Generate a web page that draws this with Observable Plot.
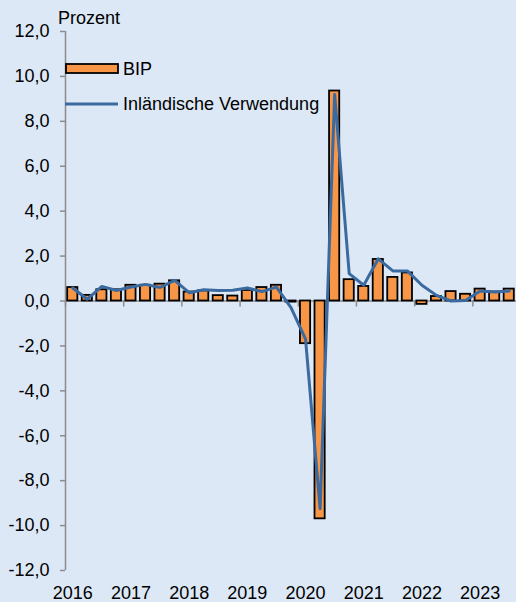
<!DOCTYPE html>
<html><head><meta charset="utf-8">
<script src="https://cdn.jsdelivr.net/npm/d3@7"></script>
<script src="https://cdn.jsdelivr.net/npm/@observablehq/plot@0.6"></script>
<style>
body{margin:0;background:#dce8f6;}
#wrap{position:relative;width:516px;height:602px;overflow:hidden;font-family:"Liberation Sans",Arial,sans-serif;background:#dce8f6;}
#overlay{position:absolute;left:0;top:0;pointer-events:none;}
</style></head><body><div id="wrap"></div>
<script>
// Quarterly change vs previous quarter, percent
const quarters = [
  "2016Q1","2016Q2","2016Q3","2016Q4",
  "2017Q1","2017Q2","2017Q3","2017Q4",
  "2018Q1","2018Q2","2018Q3","2018Q4",
  "2019Q1","2019Q2","2019Q3","2019Q4",
  "2020Q1","2020Q2","2020Q3","2020Q4",
  "2021Q1","2021Q2","2021Q3","2021Q4",
  "2022Q1","2022Q2","2022Q3","2022Q4",
  "2023Q1","2023Q2","2023Q3"
];
const years = ["2016","2017","2018","2019","2020","2021","2022","2023"];
const bip = [
  0.6, 0.25, 0.5, 0.5,
  0.7, 0.7, 0.75, 0.9,
  0.4, 0.45, 0.24, 0.22,
  0.47, 0.6, 0.7, -0.05,
  -1.9, -9.7, 9.35, 0.95,
  0.65, 1.85, 1.05, 1.25,
  -0.15, 0.2, 0.42, 0.3,
  0.53, 0.4, 0.53
];
const inl = [
  0.58, 0.08, 0.65, 0.47,
  0.62, 0.74, 0.6, 0.92,
  0.37, 0.5, 0.47, 0.48,
  0.58, 0.42, 0.62, -0.3,
  -1.7, -9.25, 9.2, 1.22,
  0.7, 1.88, 1.34, 1.34,
  0.7, 0.25, 0.0, 0.02,
  0.45, 0.4, 0.45
];
const yTicks = [-12,-10,-8,-6,-4,-2,0,2,4,6,8,10,12];
const seriesNames = ["BIP","Inländische Verwendung"];
const unitLabel = "Prozent";

const W = 516, H = 602, ML = 65, MR = 0, MT = 31, MB = 32;
const n = quarters.length;
const step = (W - ML - MR) / n;
const gap = step * 0.15;
// position index of each quarter: slot i spans [i, i+1]
const data = quarters.map((q, i) => ({q, i, bip: bip[i], inl: inl[i]}));
const yearIdx = years.map(y => quarters.indexOf(y + "Q1"));
const ORANGE = "#f79646", BLUE = "#3b6aa0", GRAY = "#8c8c8c";
const FONT = '"Liberation Sans", Arial, sans-serif';

const chart = Plot.plot({
  width: W, height: H,
  marginLeft: ML, marginRight: MR, marginTop: MT, marginBottom: MB,
  style: {background: "transparent", fontFamily: FONT, fontSize: "18px", color: "#000", overflow: "visible"},
  x: {type: "linear", domain: [0, n], axis: null},
  y: {domain: [-12, 12], axis: null},
  marks: [
    Plot.ruleY([0], {stroke: GRAY, strokeWidth: 1.5}),
    Plot.ruleX(yearIdx, {x: d => d, y1: 0, y2: 0, insetBottom: -6, stroke: GRAY, strokeWidth: 1.5}),
    Plot.ruleX([0], {y1: -12, y2: 12, stroke: GRAY, strokeWidth: 1.5}),
    Plot.axisY(yTicks, {tickSize: 5, tickPadding: 11, stroke: GRAY, strokeWidth: 1.5, fill: "#000",
      tickFormat: d => d.toFixed(1).replace(".", ","), label: null}),
    Plot.axisX(yearIdx.map(k => k + 0.5), {tickSize: 0, tickPadding: 16, fill: "#000",
      tickFormat: d => quarters[Math.floor(d)].slice(0, 4), label: null}),
    Plot.rectY(data, {x1: d => d.i, x2: d => d.i + 1, y1: 0, y2: "bip", insetLeft: gap, insetRight: gap,
      fill: ORANGE, stroke: "#000", strokeWidth: 1.8}),
    Plot.lineY(data, {x: d => d.i + 0.5, y: "inl", stroke: BLUE, strokeWidth: 3, strokeLinejoin: "round"})
  ]
});

const wrap = document.getElementById("wrap");
wrap.appendChild(chart);

// Legend and unit label overlay
const ov = d3.create("svg").attr("id", "overlay").attr("width", W).attr("height", H)
  .style("font-family", FONT).style("font-size", "18px");
ov.append("text").attr("x", 58).attr("y", 24).text(unitLabel);
ov.append("rect").attr("x", 66).attr("y", 64).attr("width", 52).attr("height", 9)
  .attr("fill", ORANGE).attr("stroke", "#000").attr("stroke-width", 1.8);
ov.append("text").attr("x", 123).attr("y", 75).text(seriesNames[0]);
ov.append("line").attr("x1", 65).attr("x2", 118).attr("y1", 104).attr("y2", 104)
  .attr("stroke", BLUE).attr("stroke-width", 3);
ov.append("text").attr("x", 123).attr("y", 110).text(seriesNames[1]);
wrap.appendChild(ov.node());
</script>
</body></html>
